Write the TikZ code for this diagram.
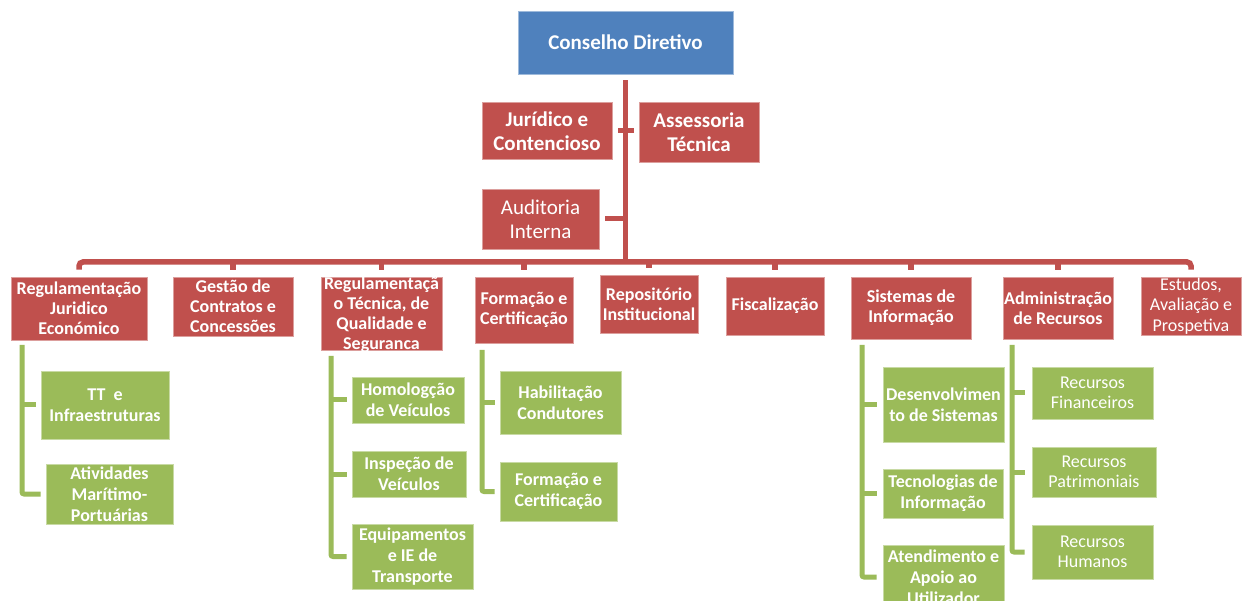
\documentclass[tikz,border=0pt]{standalone}
\usepackage{fontspec}
\setmainfont{Carlito}
\usetikzlibrary{calc}
\definecolor{cred}{HTML}{C0504D}
\definecolor{cblue}{HTML}{4F81BD}
\definecolor{cgreen}{HTML}{9BBB59}
\begin{document}
\begin{tikzpicture}[x=1pt,y=-1pt,
  basebox/.style={rectangle, inner sep=0pt, text=white, align=center, line width=0.6pt},
  redbox/.style={basebox, fill=cred, draw=cred!55!white, font=\bfseries\fontsize{18}{20}\selectfont},
  topbox/.style={redbox, font=\bfseries\fontsize{21}{24}\selectfont},
  bluebox/.style={basebox, fill=cblue, draw=cblue!55!white, font=\bfseries\fontsize{21}{24}\selectfont},
  greenbox/.style={basebox, fill=cgreen, draw=cgreen!55!white, font=\bfseries\fontsize{18}{21}\selectfont},
  reg18/.style={font=\fontsize{18}{20.5}\selectfont},
  reg21/.style={font=\fontsize{21}{24}\selectfont},
  rline/.style={draw=cred, line width=5.5pt},
  gline/.style={draw=cgreen, line width=5pt}]
\useasboundingbox (0,0) rectangle (1248,601);
\fill[white] (0,0) rectangle (1248,601);

% top
\node[bluebox, minimum width=215pt, minimum height=63pt] (cd) at (625.5,42.5) {Conselho Diretivo};
\node[topbox, minimum width=130pt, minimum height=57pt] (jur) at (547,131) {Jurídico e\\Contencioso};
\node[topbox, minimum width=120pt, minimum height=60pt] (ass) at (699,132) {Assessoria\\Técnica};
\node[topbox, reg21, minimum width=117pt, minimum height=60pt] (aud) at (540.5,219) {Auditoria\\Interna};

% level 2
\node[redbox, minimum width=136pt, minimum height=63pt] (b1) at (79,308.5) {Regulamentação\\Juridico\\Económico};
\node[redbox, minimum width=120pt, minimum height=59pt] (b2) at (233,306.5) {Gestão de\\Contratos e\\Concessões};
\node[redbox, minimum width=121pt, minimum height=73pt] (b3) at (381.5,313.5) {};
\begin{scope}
\clip (b3.south west) rectangle (b3.north east);
\node[redbox, fill=none, draw=none] (b3t) at (381.5,315) {Regulamentaçã\\o Técnica, de\\Qualidade e\\Seguranca};
\end{scope}
\node[redbox, minimum width=98pt, minimum height=66pt] (b4) at (524,310) {Formação e\\Certificação};
\node[redbox, minimum width=98pt, minimum height=58pt] (b5) at (649,304) {Repositório\\Institucional};
\node[redbox, minimum width=98pt, minimum height=58pt] (b6) at (775,306) {Fiscalização};
\node[redbox, minimum width=120pt, minimum height=62pt] (b7) at (911,308) {Sistemas de\\Informação};
\node[redbox, minimum width=110pt, minimum height=62pt] (b8) at (1058,308) {Administração\\de Recursos};
\node[redbox, reg18, minimum width=100pt, minimum height=58pt] (b9) at (1191,306) {Estudos,\\Avaliação e\\Prospetiva};

% red connectors
\coordinate (bar) at (625.5,262);
\draw[rline, shorten <=6pt] (cd.south) -- (bar);
\draw[rline, line width=5pt, shorten <=6pt, shorten >=5pt] (jur.east) -- (jur.east -| ass.west);
\draw[rline, line width=5pt, shorten <=6pt] (aud.east) -- (aud.east -| bar);
\draw[rline, rounded corners=4pt] ($(b1.north)+(0,-7)$) |- (bar) -| ($(b9.north)+(0,-7)$);
\foreach \b in {b2,b3,b4,b5,b6,b7,b8}{
  \draw[rline, shorten >=7pt] (bar -| \b.north) -- (\b.north);
}

% green group 1
\node[greenbox, minimum width=128pt, minimum height=68pt] (g11) at (105,405) {TT~ e\\Infraestruturas};
\node[greenbox, minimum width=127pt, minimum height=60pt] (g12) at (109.5,494) {Atividades\\Marítimo-\\Portuárias};
\coordinate (v1) at (22,345);
\draw[gline, rounded corners=2pt] (v1) |- ([xshift=-5pt]g12.west);
\draw[gline] (v1 |- g11.west) -- ([xshift=-5pt]g11.west);

% green group 3
\node[greenbox, minimum width=112pt, minimum height=46pt] (g31) at (408,400) {Homologção\\de Veículos};
\node[greenbox, minimum width=114pt, minimum height=46pt] (g32) at (409,474) {Inspeção de\\Veículos};
\node[greenbox, minimum width=121pt, minimum height=65pt] (g33) at (412.5,556.5) {Equipamentos\\e IE de\\Transporte};
\coordinate (v3) at (331,356);
\draw[gline, rounded corners=2pt] (v3) |- ([xshift=-5pt]g33.west);
\foreach \g in {g31,g32}{\draw[gline] (v3 |- \g.west) -- ([xshift=-5pt]\g.west);}

% green group 4
\node[greenbox, minimum width=121pt, minimum height=63pt] (g41) at (560.5,402.5) {Habilitação\\Condutores};
\node[greenbox, minimum width=117pt, minimum height=59pt] (g42) at (558.5,491.5) {Formação e\\Certificação};
\coordinate (v4) at (482,350);
\draw[gline, rounded corners=2pt] (v4) |- ([xshift=-5pt]g42.west);
\draw[gline] (v4 |- g41.west) -- ([xshift=-5pt]g41.west);

% green group 7
\node[greenbox, minimum width=121pt, minimum height=75pt] (g71) at (943.5,404.5) {Desenvolvimen\\to de Sistemas};
\node[greenbox, minimum width=120pt, minimum height=49pt] (g72) at (943,493.5) {Tecnologias de\\Informação};
\node[greenbox, minimum width=121pt, minimum height=64pt] (g73) at (943.5,577) {Atendimento e\\Apoio ao\\Utilizador};
\coordinate (v7) at (862,345);
\draw[gline, rounded corners=2pt] (v7) |- ([xshift=-6pt]g73.west);
\foreach \g in {g71,g72}{\draw[gline] (v7 |- \g.west) -- ([xshift=-6pt]\g.west);}

% green group 8
\node[greenbox, reg18, minimum width=121pt, minimum height=52pt] (g81) at (1092.5,393) {Recursos\\Financeiros};
\node[greenbox, reg18, minimum width=124pt, minimum height=50pt] (g82) at (1094,472) {Recursos\\Patrimoniais};
\node[greenbox, reg18, minimum width=121pt, minimum height=54pt] (g83) at (1092.5,552) {Recursos\\Humanos};
\coordinate (v8) at (1012,345);
\draw[gline, rounded corners=2pt] (v8) |- ([xshift=-7pt]g83.west);
\foreach \g in {g81,g82}{\draw[gline] (v8 |- \g.west) -- ([xshift=-7pt]\g.west);}
\end{tikzpicture}
\end{document}
